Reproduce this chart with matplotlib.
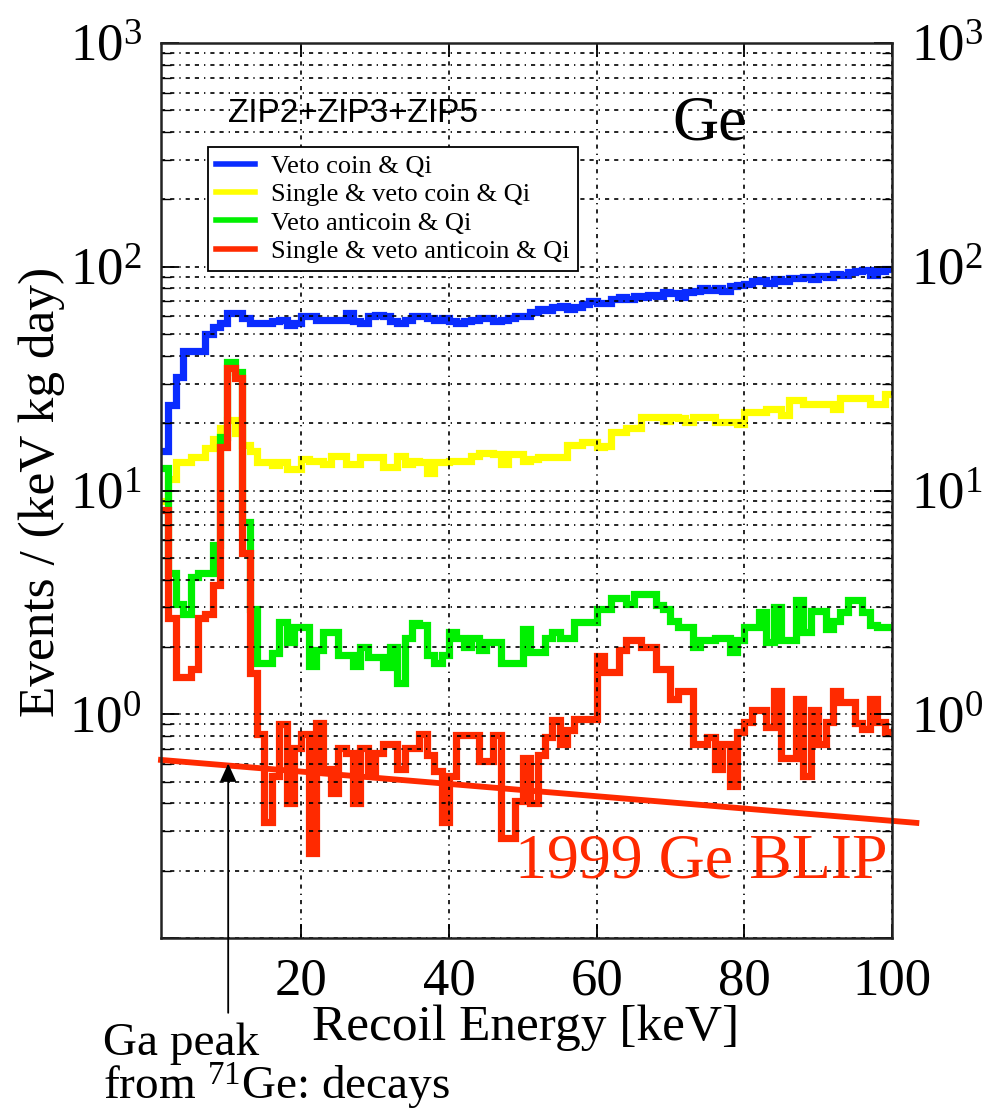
import numpy as np
import matplotlib
matplotlib.use('Agg')
import matplotlib.pyplot as plt
from matplotlib.ticker import FixedLocator, NullFormatter

plt.rcParams['font.family'] = ['Liberation Serif', 'DejaVu Serif']
plt.rcParams['mathtext.fontset'] = 'custom'
plt.rcParams['mathtext.rm'] = 'Liberation Serif'
plt.rcParams['mathtext.it'] = 'Liberation Serif:italic'

# 1 keV bins from 1 to 100 keV
edges = np.arange(1, 101)

veto_coin = [15, 24, 32, 42, 42, 42, 50, 54, 56, 62, 62, 59, 56, 56, 56, 57, 58, 55, 56, 60,
             60, 58, 58, 58, 58, 62, 57, 56, 60, 61, 60, 57, 56, 58, 60, 60, 59, 58, 59, 57,
             56, 57, 58, 59, 59, 57, 58, 59, 60, 60, 63, 65, 64, 66, 67, 65, 66, 68, 70, 69,
             69, 72, 73, 72, 74, 73, 75, 74, 77, 76, 73, 77, 78, 80, 79, 80, 78, 82, 83, 84,
             86, 87, 85, 88, 86, 89, 89, 90, 88, 91, 90, 93, 92, 95, 96, 97, 92, 96, 98]

single_coin = [9, 11.3, 13.4, 13.4, 14.1, 14.1, 15.5, 17, 19, 20.6, 18, 16, 15, 13.4, 13.4, 13, 13.4, 12.5, 12.5, 13.8,
               13.6, 13.6, 13.2, 14.3, 14.3, 13.2, 13.2, 14.1, 14.1, 14.1, 12.8, 12.8, 14.3, 13.2, 13.6, 13.4, 12.0, 13.4, 13.4, 13.6,
               13.6, 13.6, 14.3, 14.7, 14.7, 14.5, 13.2, 14.5, 14.5, 13.6, 13.8, 14.1, 14.1, 14.1, 14.1, 16, 16, 16.5, 16.5, 15.6,
               15.8, 18.2, 18.2, 19.1, 19.1, 21.3, 21.3, 21.3, 20.5, 21.3, 21.0, 20.2, 21.3, 21.3, 21.3, 20.2, 20.2, 20.2, 19.8, 22.4,
               22.4, 22.4, 23.2, 23.2, 21.7, 25.3, 25.3, 24.4, 24.4, 24.4, 24.4, 23.2, 26, 26, 26, 26, 24.4, 24.4, 27]

veto_anticoin = [12.6, 4.3, 3.1, 2.8, 4.1, 4.3, 4.3, 5.7, 17.3, 37.5, 33.8, 7.2, 2.95, 1.69, 1.69, 1.87, 2.58, 2.10, 2.46, 2.46,
                 1.65, 1.93, 2.34, 2.34, 1.84, 1.84, 1.65, 2.0, 1.8, 1.8, 1.63, 2.0, 1.38, 2.2, 2.55, 2.5, 1.84, 1.69, 1.84, 2.34,
                 2.2, 2.0, 2.2, 1.93, 2.1, 2.1, 1.69, 1.69, 1.69, 2.4, 1.9, 1.9, 2.2, 2.34, 2.2, 2.2, 2.58, 2.58, 2.58, 2.95,
                 2.95, 3.3, 3.3, 3.1, 3.45, 3.45, 3.45, 3.07, 2.95, 2.6, 2.46, 2.46, 2.0, 2.15, 2.15, 2.2, 2.2, 1.9, 2.15, 2.46,
                 2.46, 2.85, 2.1, 3.0, 2.15, 2.15, 3.25, 2.34, 2.9, 2.9, 2.4, 2.6, 2.85, 3.25, 3.25, 2.85, 2.5, 2.46, 2.46]

single_anticoin = [8.2, 2.7, 1.47, 1.47, 1.6, 2.7, 2.8, 3.8, 15.6, 35.2, 31.7, 5.25, 1.53, 0.82, 0.33, 0.53, 0.9, 0.4, 0.71, 0.82,
                   0.24, 0.91, 0.57, 0.445, 0.71, 0.67, 0.40, 0.71, 0.54, 0.67, 0.74, 0.74, 0.57, 0.71, 0.71, 0.82, 0.66, 0.56, 0.33, 0.53,
                   0.81, 0.81, 0.81, 0.62, 0.62, 0.81, 0.28, 0.28, 0.41, 0.64, 0.40, 0.66, 0.79, 0.94, 0.74, 0.85, 0.95, 0.95, 0.95, 1.83,
                   1.54, 1.54, 1.93, 2.15, 2.15, 2.0, 2.0, 1.6, 1.6, 1.17, 1.27, 1.27, 0.74, 0.74, 0.79, 0.57, 0.74, 0.48, 0.83, 0.92,
                   1.05, 1.05, 0.88, 1.27, 0.64, 0.64, 1.17, 0.53, 1.04, 0.74, 0.92, 1.27, 1.13, 1.13, 0.91, 0.86, 1.17, 0.92, 0.83]

labels = ['Veto coin & Qi', 'Single & veto coin & Qi', 'Veto anticoin & Qi', 'Single & veto anticoin & Qi']
colors = ['#0a2cff', '#ffff00', '#00f000', '#ff2a00']

# 1999 Ge BLIP limit (straight line on this plot)
blip_x = [1, 103.3]
blip_y = [0.625, 0.327]

# Ga peak arrow
arrow_x = 10.1
arrow_tip = 0.62
arrow_base = 0.045

fig = plt.figure(figsize=(9.96, 11.11), dpi=100)
ax = fig.add_axes([161 / 996, 1 - 938 / 1111, (892 - 161) / 996, (938 - 43) / 1111])

for vals, lab, col in zip([veto_coin, single_coin, veto_anticoin, single_anticoin], labels, colors):
    ax.stairs(vals, edges, color=col, lw=5.2, label=lab, baseline=None)

ax.set_yscale('log')
ax.set_xlim(1, 100)
ax.set_ylim(0.1, 1000)

ax.xaxis.set_major_locator(FixedLocator([20, 40, 60, 80, 100]))
ax.set_xticklabels(['20', '40', '60', '80', '100'])
ax.yaxis.set_major_locator(FixedLocator([0.1, 1, 10, 100, 1000]))
ax.set_yticklabels(['', '$10^{0}$', '$10^{1}$', '$10^{2}$', '$10^{3}$'])
minor = [m * 10.0 ** d for d in range(-1, 3) for m in range(2, 10)]
ax.yaxis.set_minor_locator(FixedLocator(minor))
ax.yaxis.set_minor_formatter(NullFormatter())

ax.tick_params(axis='both', which='major', direction='in', labelsize=38, width=1.3)
ax.tick_params(axis='x', which='major', length=10, pad=14, top=True)
ax.tick_params(axis='y', which='major', length=13, pad=14, right=True, labelright=True)
ax.tick_params(axis='y', which='minor', direction='in', length=7, width=1.0, right=True)

grid_ls = (0, (2.5, 3, 2.5, 3, 0.8, 3))
ax.grid(True, which='major', axis='x', color='black', lw=1.2, linestyle=grid_ls)
ax.grid(True, which='both', axis='y', color='black', lw=1.2, linestyle=grid_ls)
for s in ax.spines.values():
    s.set_linewidth(1.8)
    s.set_color('#222222')

ax.plot(blip_x, blip_y, color='#ff2a00', lw=4.2, clip_on=False)

ax.annotate('', xy=(arrow_x, arrow_tip), xytext=(arrow_x, arrow_base),
            arrowprops=dict(arrowstyle='-|>,head_length=1.1,head_width=0.5', color='black', lw=1.3),
            annotation_clip=False)

leg = ax.legend(loc='upper left', bbox_to_anchor=(0.064, 0.884), borderaxespad=0,
                fontsize=19, frameon=True, fancybox=False, handlelength=1.5,
                labelspacing=0.18, borderpad=0.3, handletextpad=0.6)
leg.get_frame().set_edgecolor('black')
leg.get_frame().set_linewidth(1.3)
leg.get_frame().set_alpha(1)
for h in leg.get_lines():
    h.set_linewidth(4)
for h in leg.legend_handles:
    h.set_linewidth(4)

fig.text(228 / 996, 1 - 122 / 1111, 'ZIP2+ZIP3+ZIP5', family='Liberation Sans', fontsize=24,
         ha='left', va='baseline')
fig.text(672 / 996, 1 - 140 / 1111, 'Ge', fontsize=46, ha='left', va='baseline')
fig.text(515 / 996, 1 - 877 / 1111, '1999 Ge BLIP', fontsize=46, color='#ff2a00', ha='left', va='baseline')

fig.text(42 / 996, 1 - 492 / 1111, 'Events / (keV kg day)', fontsize=37, rotation=90, ha='center', va='center')
fig.text(526 / 996, 1 - 1040 / 1111, 'Recoil Energy [keV]', fontsize=37, ha='center', va='baseline')
fig.text(103 / 996, 1 - 1055 / 1111, 'Ga peak', fontsize=34, ha='left', va='baseline')
fig.text(103 / 996, 1 - 1100 / 1111, 'from $^{71}$Ge: decays', fontsize=34, ha='left', va='baseline')

fig.savefig('out.png', dpi=100)
